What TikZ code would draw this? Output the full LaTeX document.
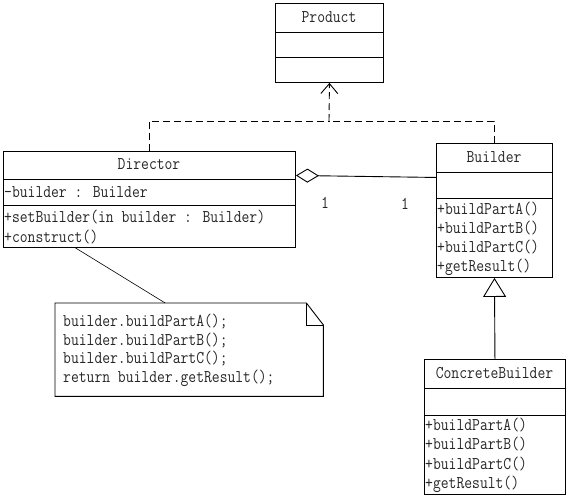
\documentclass[tikz,border=0pt]{standalone}
\usepackage{graphicx}
\usetikzlibrary{arrows.meta}
\newcommand\vsc[1]{\scalebox{1}[1.18]{#1}}
\begin{document}
\begin{tikzpicture}[x=1pt,y=-1pt,
  box/.style={draw=black,line width=0.9pt,inner sep=0pt,anchor=north west},
  noteshape/.style={inner sep=0pt,anchor=north west},
  txt/.style={inner sep=0pt,anchor=base west,text=black!85,font=\ttfamily\fontsize{15.2}{19}\selectfont},
  ttl/.style={inner sep=0pt,anchor=base,text=black!85,font=\ttfamily\fontsize{15.2}{19}\selectfont},
  ln/.style={line width=0.9pt},
  dep/.style={line width=0.9pt,dash pattern=on 7pt off 4pt},
  deparrow/.style={dep,-{Straight Barb[length=10pt,width=17pt,line width=0.9pt]}},
  agg/.style={line width=0.9pt,{Diamond[open,length=23pt,width=14pt,line width=0.9pt]}-},
  gen/.style={line width=0.9pt,-{Triangle[open,length=19pt,width=23pt,line width=0.9pt]}}
]
\useasboundingbox (0,0) rectangle (569,499);

% Product
\node[box,minimum width=108pt,minimum height=79pt] (product) at (275,3) {};
\draw[ln] (275,32) -- (383,32);
\draw[ln] (275,57) -- (383,57);
\node[ttl] (producttitle) at (329,22) {\vsc{Product}};

% Director
\node[box,minimum width=292pt,minimum height=96pt] (director) at (3,151) {};
\draw[ln] (3,179) -- (295,179);
\draw[ln] (3,205) -- (295,205);
\node[ttl] (directortitle) at (149,169) {\vsc{Director}};
\node[txt] (dattr) at (4,197) {\vsc{-builder : Builder}};
\node[txt] (dm1) at (4,222) {\vsc{+setBuilder(in builder : Builder)}};
\node[txt] (dm2) at (4,242) {\vsc{+construct()}};

% Builder
\node[box,minimum width=116pt,minimum height=134pt] (builder) at (436,143) {};
\draw[ln] (436,172) -- (552,172);
\draw[ln] (436,198) -- (552,198);
\node[ttl] (buildertitle) at (494,162) {\vsc{Builder}};
\node[txt] (bm1) at (437,214) {\vsc{+buildPartA()}};
\node[txt] (bm2) at (437,233) {\vsc{+buildPartB()}};
\node[txt] (bm3) at (437,252) {\vsc{+buildPartC()}};
\node[txt] (bm4) at (437,271) {\vsc{+getResult()}};

% ConcreteBuilder
\node[box,minimum width=141pt,minimum height=135pt] (cbuilder) at (424,359) {};
\draw[ln] (424,388) -- (565,388);
\draw[ln] (424,415) -- (565,415);
\node[ttl] (cbtitle) at (494.5,378.5) {\vsc{ConcreteBuilder}};
\node[txt] (cm1) at (425,430) {\vsc{+buildPartA()}};
\node[txt] (cm2) at (425,449.5) {\vsc{+buildPartB()}};
\node[txt] (cm3) at (425,469) {\vsc{+buildPartC()}};
\node[txt] (cm4) at (425,488) {\vsc{+getResult()}};

% Note
\node[noteshape,minimum width=268pt,minimum height=93pt] (note) at (55,303) {};
\draw[ln] (note.north west) -- ([xshift=-17pt]note.north east) -- ([yshift=-22pt]note.north east) -- (note.south east) -- (note.south west) -- cycle;
\draw[ln] ([xshift=-17pt]note.north east) |- ([yshift=-22pt]note.north east);
\node[txt] (n1) at (63,326.5) {\vsc{builder.buildPartA();}};
\node[txt] (n2) at (63,345.2) {\vsc{builder.buildPartB();}};
\node[txt] (n3) at (63,363.9) {\vsc{builder.buildPartC();}};
\node[txt] (n4) at (63,382.5) {\vsc{return builder.getResult();}};

% Dependencies
\coordinate (j) at (329,121);
\draw[dep] (director.north) |- (j);
\draw[dep] (builder.north) |- (j);
\draw[deparrow] (j) -- (product.south);

% Aggregation
\draw[agg] ([yshift=24pt]director.east) -- ([yshift=33pt]builder.west);
\node[ttl] (m1) at (325,208) {\vsc{1}};
\node[ttl] (m2) at (405,209) {\vsc{1}};

% Generalization
\draw[gen] (cbuilder.north) -- (builder.south);

% Note link
\draw[line width=0.6pt] ([xshift=-74pt]director.south) -- ([xshift=-24pt]note.north);
\end{tikzpicture}
\end{document}
